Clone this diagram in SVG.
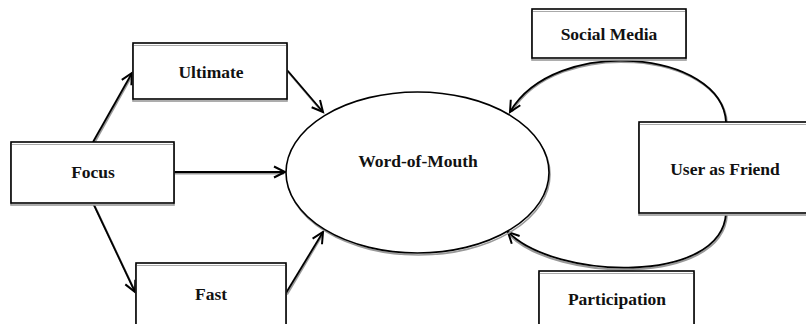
<svg xmlns="http://www.w3.org/2000/svg" width="806" height="324" viewBox="0 0 806 324">
<style>
.box{fill:#fff;stroke:#000;stroke-width:1.6}
.sh{fill:#fff;stroke:#999;stroke-width:1.6}
.in{stroke:#aaa;stroke-width:1.2}
.lbl{font-family:"Liberation Serif","Times New Roman",serif;font-weight:bold;font-size:17.5px;fill:#111;text-anchor:middle}
.cs{fill:none;stroke:#999;stroke-width:2}
.c{fill:none;stroke:#000;stroke-width:1.8}
</style>
<defs>
<marker id="ah" markerUnits="userSpaceOnUse" markerWidth="16" markerHeight="16" refX="12" refY="6" orient="auto" viewBox="0 0 16 12">
<path d="M1,0.5 L12,6 L1,11.5" fill="none" stroke="#000" stroke-width="2"/>
</marker>
</defs>
<g id="connectors">
<g transform="translate(1,1.5)">
<line class="cs" x1="93" y1="142" x2="131" y2="74"/>
<line class="cs" x1="93" y1="203" x2="134" y2="290"/>
<line class="cs" x1="174" y1="172" x2="283" y2="172"/>
<line class="cs" x1="287" y1="70" x2="321" y2="110"/>
<line class="cs" x1="286" y1="293" x2="321" y2="234"/>
<path class="cs" d="M726,122 C722,50 555,35 511,110"/>
<path class="cs" d="M726,213 C722,285 555,280 509,234"/>
</g>
<line class="c" x1="93" y1="142" x2="132" y2="73" marker-end="url(#ah)"/>
<line class="c" x1="93" y1="203" x2="135" y2="292" marker-end="url(#ah)"/>
<line class="c" x1="174" y1="172" x2="285" y2="172" marker-end="url(#ah)"/>
<line class="c" x1="287" y1="70" x2="323" y2="112" marker-end="url(#ah)"/>
<line class="c" x1="286" y1="293" x2="323" y2="232" marker-end="url(#ah)"/>
<path class="c" d="M726,122 C722,50 555,35 510,112" marker-end="url(#ah)"/>
<path class="c" d="M726,213 C722,285 555,280 508,232" marker-end="url(#ah)"/>
</g>
<g id="ultimate">
<rect class="sh" x="133" y="45" width="154" height="56"/>
<rect class="box" x="133" y="43" width="154" height="56"/>
<line class="in" x1="134" y1="45.5" x2="286" y2="45.5"/>
<text class="lbl" x="211" y="78">Ultimate</text>
</g>
<g id="focus">
<rect class="sh" x="11" y="144" width="163" height="61"/>
<rect class="box" x="11" y="142" width="163" height="61"/>
<line class="in" x1="12" y1="144.5" x2="173" y2="144.5"/>
<text class="lbl" x="93" y="178">Focus</text>
</g>
<g id="fast">
<rect class="sh" x="136" y="265" width="150" height="70"/>
<rect class="box" x="136" y="263" width="150" height="70"/>
<line class="in" x1="137" y1="265.5" x2="285" y2="265.5"/>
<text class="lbl" x="211" y="300">Fast</text>
</g>
<g id="word-of-mouth">
<ellipse cx="418.5" cy="174.5" rx="131.5" ry="80.5" fill="none" stroke="#999" stroke-width="1.6"/>
<ellipse cx="417.5" cy="172.5" rx="131.5" ry="80.5" fill="#fff" stroke="#000" stroke-width="1.6"/>
<text class="lbl" x="418" y="167">Word-of-Mouth</text>
</g>
<g id="social-media">
<rect class="sh" x="532" y="11" width="154" height="49"/>
<rect class="box" x="532" y="9" width="154" height="49"/>
<line class="in" x1="533" y1="11.5" x2="685" y2="11.5"/>
<text class="lbl" x="609" y="40">Social Media</text>
</g>
<g id="user-as-friend">
<rect class="sh" x="639" y="124" width="180" height="91"/>
<rect class="box" x="639" y="122" width="180" height="91"/>
<line class="in" x1="640" y1="124.5" x2="806" y2="124.5"/>
<text class="lbl" x="725" y="175">User as Friend</text>
</g>
<g id="participation">
<rect class="sh" x="539" y="273" width="155" height="70"/>
<rect class="box" x="539" y="271" width="155" height="70"/>
<line class="in" x1="540" y1="273.5" x2="693" y2="273.5"/>
<text class="lbl" x="617" y="305">Participation</text>
</g>
</svg>
